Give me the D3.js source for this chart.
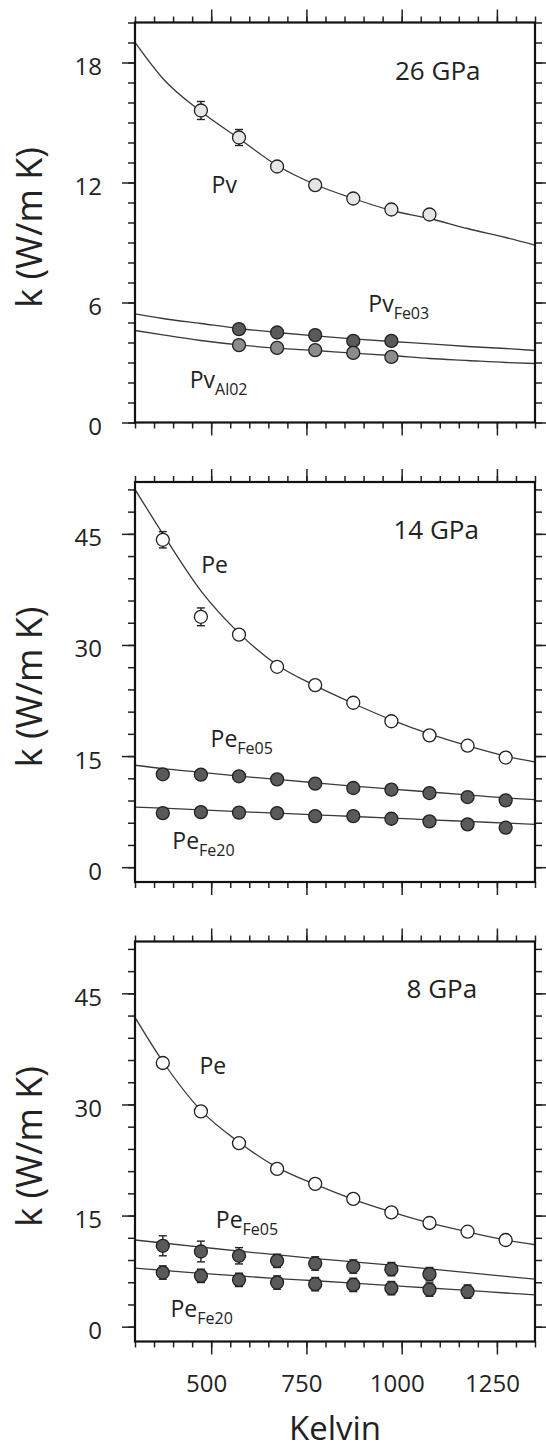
<!DOCTYPE html>
<html>
<head>
<meta charset="utf-8">
<script src="https://cdn.jsdelivr.net/npm/d3@7"></script>
<style>
  body { margin: 0; background: #fff; }
  svg text { font-family: "Open Sans", sans-serif; fill: #222; }
</style>
</head>
<body>
<div id="chart"></div>
<script>
// measurement temperatures (K)
const tempsK = [373, 473, 573, 673, 773, 873, 973, 1073, 1173, 1273];
const fitK = [300, 373, 473, 573, 673, 773, 873, 973, 1073, 1173, 1273, 1350];

// 26 GPa
const pv26 = [null, 15.6, 14.25, 12.8, 11.87, 11.2, 10.65, 10.4, null, null];
const pv26Err = [0, 0.45, 0.4, 0, 0, 0, 0, 0, 0, 0];
const pv26Fit = [19.0, 17.2, 15.55, 14.2, 12.85, 11.9, 11.2, 10.6, 10.2, 9.7, 9.25, 8.87];
const pvFe03 = [null, null, 4.67, 4.5, 4.37, 4.08, 4.08, null, null, null];
const pvFe03Fit = [5.43, 5.2, 4.95, 4.7, 4.5, 4.33, 4.18, 4.05, 3.93, 3.8, 3.7, 3.6];
const pvAl02 = [null, null, 3.87, 3.73, 3.62, 3.48, 3.28, null, null, null];
const pvAl02Fit = [4.6, 4.38, 4.1, 3.88, 3.72, 3.6, 3.47, 3.35, 3.2, 3.1, 3.0, 2.95];

// 14 GPa
const pe14 = [44.2, 33.8, 31.4, 27.05, 24.58, 22.2, 19.7, 17.8, 16.4, 14.8];
const pe14Err = [1.1, 1.2, 0, 0, 0, 0, 0, 0, 0, 0];
const pe14Fit = [51.0, 45.0, 37.3, 31.6, 27.3, 24.5, 22.1, 19.9, 18.0, 16.4, 15.0, 14.2];
const peFe05_14 = [12.54, 12.5, 12.27, 11.86, 11.28, 10.69, 10.47, 10.01, 9.47, 9.02];
const peFe05_14Fit = [13.76, 13.3, 12.8, 12.3, 11.85, 11.4, 10.95, 10.55, 10.15, 9.75, 9.35, 9.11];
const peFe20_14 = [7.3, 7.44, 7.36, 7.3, 6.9, 6.9, 6.54, 6.18, 5.78, 5.33];
const peFe20_14Fit = [8.12, 7.96, 7.73, 7.51, 7.29, 7.07, 6.84, 6.62, 6.4, 6.18, 5.95, 5.78];

// 8 GPa
const pe8 = [35.6, 29.06, 24.77, 21.3, 19.28, 17.25, 15.43, 14.0, 12.82, 11.7];
const pe8Fit = [41.75, 35.8, 29.2, 24.9, 21.5, 19.2, 17.2, 15.5, 14.0, 12.8, 11.7, 11.06];
const peFe05_8 = [10.92, 10.15, 9.57, 8.89, 8.53, 8.12, 7.77, 7.09, null, null];
const peFe05_8Err = [1.35, 1.4, 1.1, 0.9, 0.9, 0.9, 0.9, 0.9, 0, 0];
const peFe05_8Fit = [11.7, 11.3, 10.75, 10.2, 9.7, 9.2, 8.75, 8.3, 7.8, 7.3, 6.8, 6.42];
const peFe20_8 = [7.31, 6.86, 6.32, 5.96, 5.74, 5.64, 5.2, 5.01, 4.74, null];
const peFe20_8Err = [0.9, 0.9, 0.9, 0.9, 0.9, 0.9, 0.9, 0.9, 0.9, 0];
const peFe20_8Fit = [7.9, 7.6, 7.2, 6.85, 6.5, 6.2, 5.88, 5.55, 5.22, 4.9, 4.55, 4.29];

const xMajor = [500, 750, 1000, 1250];

const width = 546, height = 1450;
const left = 135, plotW = 400, plotH = 400;

const panels = [
  {
    top: 22.5, domain: [0, 20], major: [0, 6, 12, 18], minorStep: 1, title: "26 GPa", titlePos: [260, 57.5],
    series: [
      {k: pv26, err: pv26Err, fit: pv26Fit, fill: "#e6e6e6"},
      {k: pvFe03, fit: pvFe03Fit, fill: "#5a5a5a"},
      {k: pvAl02, fit: pvAl02Fit, fill: "#8c8c8c"}
    ],
    labels: [["Pv", "", 76.6, 170.5], ["Pv", "Fe03", 233.3, 289.2], ["Pv", "Al02", 54.7, 365.8]]
  },
  {
    top: 482, domain: [-2, 52], major: [0, 15, 30, 45], minorStep: 3, title: "14 GPa", titlePos: [258.4, 57.3],
    series: [
      {k: pe14, err: pe14Err, fit: pe14Fit, fill: "#fff"},
      {k: peFe05_14, fit: peFe05_14Fit, fill: "#5a5a5a"},
      {k: peFe20_14, fit: peFe20_14Fit, fill: "#5a5a5a"}
    ],
    labels: [["Pe", "", 66.2, 90.7], ["Pe", "Fe05", 75.6, 265.3], ["Pe", "Fe20", 37.3, 367.3]]
  },
  {
    top: 941.5, domain: [-2, 52], major: [0, 15, 30, 45], minorStep: 3, title: "8 GPa", titlePos: [271.6, 56.8],
    series: [
      {k: pe8, fit: pe8Fit, fill: "#fff"},
      {k: peFe05_8, err: peFe05_8Err, fit: peFe05_8Fit, fill: "#5a5a5a"},
      {k: peFe20_8, err: peFe20_8Err, fit: peFe20_8Fit, fill: "#5a5a5a"}
    ],
    labels: [["Pe", "", 64.4, 132.5], ["Pe", "Fe05", 80.8, 286.8], ["Pe", "Fe20", 35.5, 375.2]]
  }
];

const svg = d3.select("#chart").append("svg")
  .attr("width", width)
  .attr("height", height);

const x = d3.scaleLinear().domain([300, 1350]).range([0, plotW]);
const xMinor = d3.range(300, 1351, 50);

function noDomain(g) { g.select(".domain").remove(); }

panels.forEach(function(p, pi) {
  const y = d3.scaleLinear().domain(p.domain).range([plotH, 0]);
  const yMinor = d3.range(Math.ceil(p.domain[0] / p.minorStep) * p.minorStep, p.domain[1] + 0.001, p.minorStep);
  const last = pi === panels.length - 1;

  const g = svg.append("g")
    .attr("transform", "translate(" + left + "," + p.top + ")");

  svg.append("clipPath").attr("id", "clip" + pi)
    .append("rect").attr("width", plotW).attr("height", plotH);

  // ticks, all pointing outward
  g.append("g").attr("class", "ticks")
    .call(d3.axisTop(x).tickValues(xMinor).tickSize(6).tickFormat("")).call(noDomain);
  g.append("g").attr("class", "ticks")
    .call(d3.axisTop(x).tickValues(xMajor).tickSize(13).tickFormat("")).call(noDomain);
  g.append("g").attr("class", "ticks").attr("transform", "translate(0," + plotH + ")")
    .call(d3.axisBottom(x).tickValues(xMinor).tickSize(6).tickFormat("")).call(noDomain);
  const xb = g.append("g").attr("class", "ticks").attr("transform", "translate(0," + plotH + ")")
    .call(d3.axisBottom(x).tickValues(xMajor).tickSize(13).tickPadding(20)
      .tickFormat(last ? d3.format("d") : "")).call(noDomain);
  xb.selectAll("text").attr("x", -5).style("font-size", "24px");

  g.append("g").attr("class", "ticks")
    .call(d3.axisLeft(y).tickValues(yMinor).tickSize(7).tickFormat("")).call(noDomain);
  const yl = g.append("g").attr("class", "ticks")
    .call(d3.axisLeft(y).tickValues(p.major).tickSize(13).tickPadding(20)).call(noDomain);
  yl.selectAll("text").attr("dy", "0.5em").style("font-size", "24px");
  g.append("g").attr("class", "ticks").attr("transform", "translate(" + plotW + ",0)")
    .call(d3.axisRight(y).tickValues(yMinor).tickSize(7).tickFormat("")).call(noDomain);
  g.append("g").attr("class", "ticks").attr("transform", "translate(" + plotW + ",0)")
    .call(d3.axisRight(y).tickValues(p.major).tickSize(13).tickFormat("")).call(noDomain);

  g.selectAll(".ticks line").attr("stroke", "#222").attr("stroke-width", 1.5);

  const plot = g.append("g").attr("clip-path", "url(#clip" + pi + ")");

  // fitted curves
  const line = d3.line()
    .x(function(d) { return x(d[0]); })
    .y(function(d) { return y(d[1]); })
    .curve(d3.curveMonotoneX);

  p.series.forEach(function(s) {
    plot.append("path")
      .datum(fitK.map(function(t, i) { return [t, s.fit[i]]; }))
      .attr("fill", "none")
      .attr("stroke", "#3a3a3a")
      .attr("stroke-width", 1.3)
      .attr("d", line);
  });

  p.series.forEach(function(s) {
    const pts = tempsK.map(function(t, i) {
      return {t: t, k: s.k[i], e: s.err ? s.err[i] : 0};
    }).filter(function(d) { return d.k !== null; });

    const eb = g.append("g");
    pts.filter(function(d) { return d.e > 0; }).forEach(function(d) {
      const cx = x(d.t), y0 = y(d.k - d.e), y1 = y(d.k + d.e);
      eb.append("line").attr("x1", cx).attr("x2", cx).attr("y1", y0).attr("y2", y1);
      eb.append("line").attr("x1", cx - 4).attr("x2", cx + 4).attr("y1", y0).attr("y2", y0);
      eb.append("line").attr("x1", cx - 4).attr("x2", cx + 4).attr("y1", y1).attr("y2", y1);
    });
    eb.selectAll("line").attr("stroke", "#222").attr("stroke-width", 1.4);

    g.append("g").selectAll("circle")
      .data(pts)
      .enter().append("circle")
      .attr("cx", function(d) { return x(d.t); })
      .attr("cy", function(d) { return y(d.k); })
      .attr("r", 6.5)
      .attr("fill", s.fill)
      .attr("stroke", "#222")
      .attr("stroke-width", 1.3);
  });

  // frame
  g.append("rect")
    .attr("width", plotW)
    .attr("height", plotH)
    .attr("fill", "none")
    .attr("stroke", "#111")
    .attr("stroke-width", 2.2);

  g.append("text")
    .attr("x", p.titlePos[0])
    .attr("y", p.titlePos[1])
    .style("font-size", "26px")
    .text(p.title);

  p.labels.forEach(function(l) {
    const t = g.append("text")
      .attr("x", l[2])
      .attr("y", l[3])
      .style("font-size", "23px")
      .text(l[0]);
    if (l[1]) {
      t.append("tspan")
        .attr("dy", 7)
        .style("font-size", "16px")
        .text(l[1]);
    }
  });

  svg.append("text")
    .attr("transform", "translate(42," + (p.top + plotH / 2 + 5) + ") rotate(-90)")
    .attr("text-anchor", "middle")
    .style("font-size", "36px")
    .text("k (W/m K)");
});

svg.append("text")
  .attr("x", left + plotW / 2)
  .attr("y", 1440)
  .attr("text-anchor", "middle")
  .style("font-size", "33px")
  .text("Kelvin");
</script>
</body>
</html>
